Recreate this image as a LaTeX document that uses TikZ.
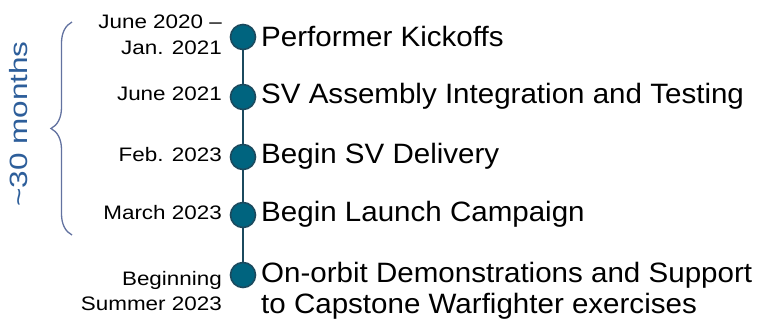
\documentclass[tikz,border=0pt]{standalone}
\usepackage{fontspec}
\setmainfont{Liberation Sans}
\usetikzlibrary{decorations.pathreplacing}
\definecolor{dotfill}{HTML}{00647F}
\definecolor{dotline}{HTML}{1B4A5E}
\definecolor{bracecol}{HTML}{6272A0}
\definecolor{monthcol}{HTML}{2D5E9A}
\newcommand\widen[1]{\scalebox{1.15}[1]{#1}}
\newcommand\evtwide[1]{\scalebox{1.055}[1]{#1}}
\begin{document}
\begin{tikzpicture}[x=1pt,y=-1pt,
  dot/.style={circle,fill=dotfill,draw=dotline,line width=1.6pt,minimum size=25pt,inner sep=0pt},
  evt/.style={anchor=west,font=\fontsize{28}{31}\selectfont,inner sep=0pt,align=left},
  when/.style={anchor=east,font=\fontsize{19.5}{25.5}\selectfont,inner sep=0pt,align=right},
  link/.style={draw=dotline,line width=2pt}]
\useasboundingbox (0,0) rectangle (762,325);
\draw[link] (243,37) -- (243,275);
\node[dot] (d1) at (243,37) {};
\node[dot] (d2) at (243,97) {};
\node[dot] (d3) at (243,157) {};
\node[dot] (d4) at (243,215) {};
\node[dot] (d5) at (243,275) {};
\node[evt] (e1) at (261,36) {\evtwide{Performer Kickoffs}};
\node[evt] (e2) at (261,96) {\evtwide{SV Assembly Integration and Testing}};
\node[evt] (e3) at (261,156) {\evtwide{Begin SV Delivery}};
\node[evt] (e4) at (261,214) {\evtwide{Begin Launch Campaign}};
\node[evt] (e5) at (261,291) {\evtwide{On-orbit Demonstrations and Support}\\\evtwide{to Capstone Warfighter exercises}};
\node[when] (w1) at (222,35) {\widen{June 2020 --}\\\widen{Jan. 2021}};
\node[when] (w2) at (222,94) {\widen{June 2021}};
\node[when] (w3) at (222,155) {\widen{Feb. 2023}};
\node[when] (w4) at (222,213) {\widen{March 2023}};
\node[when] (w5) at (222,291) {\widen{Beginning}\\\widen{Summer 2023}};
\coordinate (btop) at (72,22);
\coordinate (bbot) at (72,235);
\draw[bracecol,line width=1.3pt,decorate,decoration={brace,amplitude=21pt,mirror}] (btop) -- (bbot);
\node[rotate=90,text=monthcol,font=\fontsize{25}{28}\selectfont,inner sep=0pt] (m) at (19,124) {\scalebox{1.26}[1]{\textasciitilde30 months}};
\end{tikzpicture}
\end{document}
